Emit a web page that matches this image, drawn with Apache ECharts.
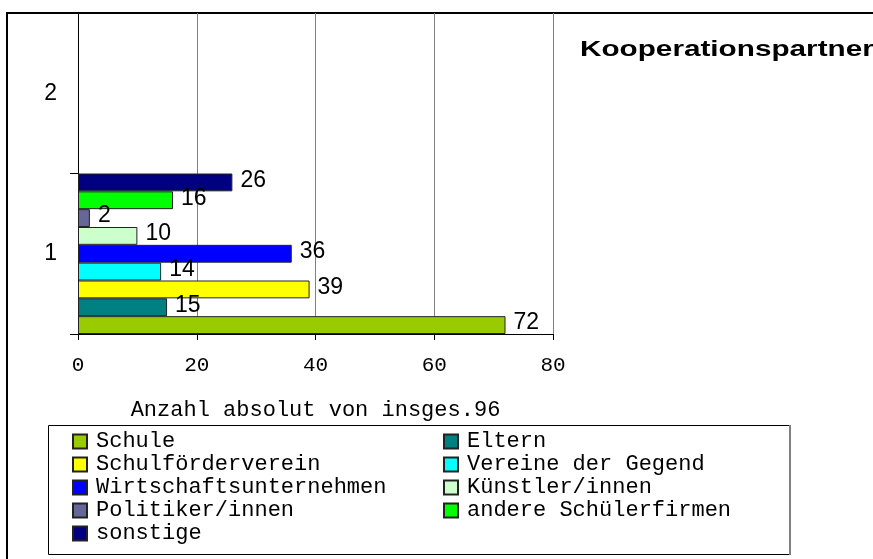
<!DOCTYPE html>
<html>
<head>
<meta charset="utf-8">
<script src="https://cdn.jsdelivr.net/npm/echarts@6/dist/echarts.min.js"></script>
<style>
  html, body { margin: 0; padding: 0; background: #fff; }
  #chart { width: 873px; height: 559px; }
</style>
</head>
<body>
<div id="chart"></div>
<script>
// Kategorien (y-Achse)
const kategorien = ['1', '2'];
// Reihen in Legenden-Reihenfolge
const namen = ['Schule', 'Eltern', 'Schulförderverein', 'Vereine der Gegend', 'Wirtschaftsunternehmen',
  'Künstler/innen', 'Politiker/innen', 'andere Schülerfirmen', 'sonstige'];
const farben = ['#99cc00', '#008080', '#ffff00', '#00ffff', '#0000ff', '#ccffcc', '#666699', '#00ff00', '#000080'];
// Werte für Kategorie 1, Kategorie 2 ist leer
const werte1 = [72, 15, 39, 14, 36, 10, 2, 16, 26];
const werte2 = [null, null, null, null, null, null, null, null, null];
// Achse
const xTicks = [0, 20, 40, 60, 80];
const titel = 'Kooperationspartner';
const achsenName = 'Anzahl absolut von insges.96';

const mono = "'Courier New', 'Liberation Mono', monospace";
const sans = "Arial, 'Liberation Sans', sans-serif";

const chart = echarts.init(document.getElementById('chart'), null, {renderer: 'canvas'});

// series 0 liegt oben im Band -> umdrehen, damit Schule unten ist
const series = namen.map(function (name, i) {
  return {
    name: name,
    type: 'bar',
    barGap: 0,
    barCategoryGap: 0,
    data: [werte1[i], werte2[i]],
    itemStyle: {
      color: farben[i],
      borderColor: '#222',
      borderWidth: 1
    },
    label: {
      show: true,
      position: 'right',
      distance: 8,
      offset: [0, -2],
      color: '#000',
      fontFamily: sans,
      fontSize: 23
    }
  };
}).reverse();

const legendText = {
  fontFamily: mono,
  fontSize: 22,
  lineHeight: 23,
  color: '#000',
  padding: [0, 0, 0, 4]
};

const option = {
  animation: false,
  backgroundColor: '#fff',
  grid: {
    left: 78,
    right: 320,
    top: 13,
    bottom: 225,
    containLabel: false
  },
  legend: [
    {
      data: [namen[0], namen[2], namen[4], namen[6], namen[8]],
      orient: 'vertical',
      left: 72,
      top: 430,
      padding: 0,
      itemGap: 0,
      itemWidth: 14,
      itemHeight: 14,
      icon: 'rect',
      textStyle: legendText
    },
    {
      data: [namen[1], namen[3], namen[5], namen[7]],
      orient: 'vertical',
      left: 443,
      top: 430,
      padding: 0,
      itemGap: 0,
      itemWidth: 14,
      itemHeight: 14,
      icon: 'rect',
      textStyle: legendText
    }
  ],
  xAxis: {
    type: 'value',
    min: xTicks[0],
    max: xTicks[xTicks.length - 1],
    interval: xTicks[1] - xTicks[0],
    name: achsenName,
    nameLocation: 'middle',
    nameGap: 65,
    nameTextStyle: {fontFamily: mono, fontSize: 22, color: '#000'},
    axisLine: {show: true, lineStyle: {color: '#000', width: 1}},
    axisTick: {show: true, length: 6, lineStyle: {color: '#000'}},
    axisLabel: {fontFamily: mono, fontSize: 21, color: '#000', margin: 21},
    splitLine: {show: true, lineStyle: {color: '#808080', width: 1}}
  },
  yAxis: {
    type: 'category',
    data: kategorien,
    axisLine: {show: true, lineStyle: {color: '#000', width: 1}},
    axisTick: {show: true, length: 8, alignWithLabel: false, lineStyle: {color: '#000'}},
    axisLabel: {fontFamily: sans, fontSize: 23, color: '#000', margin: 21},
    splitLine: {show: false}
  },
  graphic: [
    // Titel, im Original breit gezogen
    {
      type: 'text',
      silent: true,
      x: 580,
      y: 39,
      scaleX: 1.35,
      style: {
        text: titel,
        font: "bold 22px Arial, 'Liberation Sans', sans-serif",
        fill: '#000',
        verticalAlign: 'top'
      },
      z: 10
    },
    // äußerer Rahmen (rechts/unten abgeschnitten)
    {
      type: 'rect',
      silent: true,
      shape: {x: 7, y: 13, width: 1000, height: 700},
      style: {fill: 'none', stroke: '#000', lineWidth: 2},
      z: 0
    },
    // Legendenkasten
    {
      type: 'rect',
      silent: true,
      shape: {x: 48.5, y: 425.5, width: 741, height: 129},
      style: {fill: 'none', stroke: '#000', lineWidth: 1},
      z: 0
    },
    {
      type: 'line',
      silent: true,
      shape: {x1: 790, y1: 425, x2: 790, y2: 555},
      style: {stroke: '#808080', lineWidth: 2},
      z: 0
    }
  ],
  series: series
};

chart.setOption(option);
</script>
</body>
</html>
